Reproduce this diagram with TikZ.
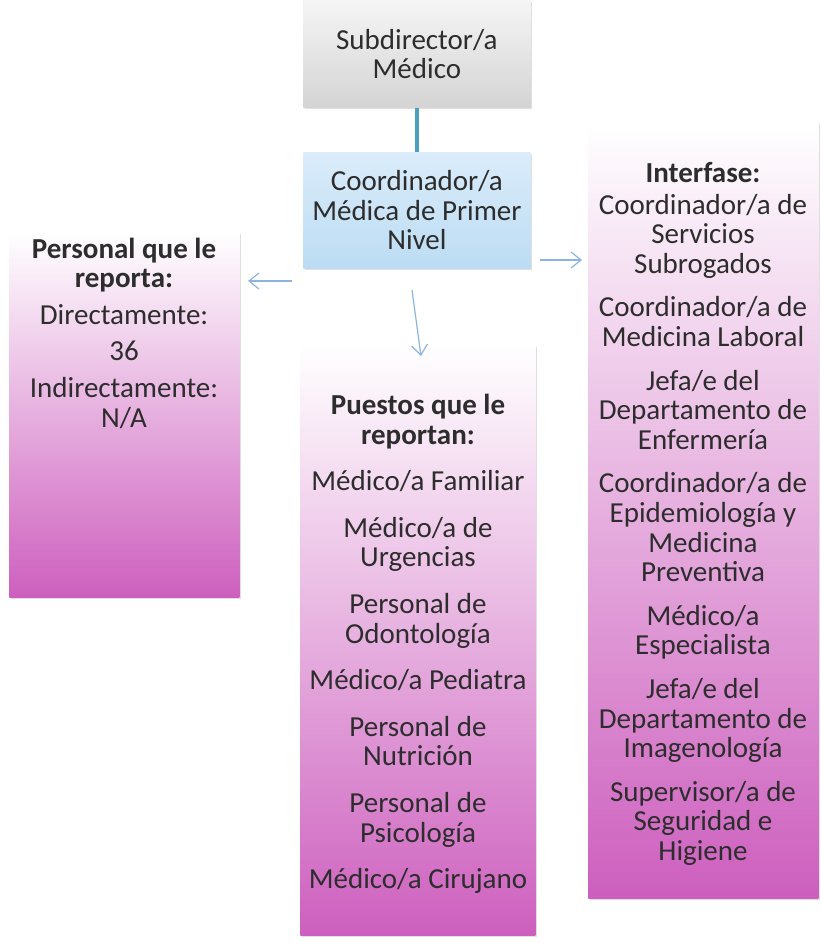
\documentclass[tikz,border=0pt]{standalone}
\usepackage{fontspec}
\setmainfont{Carlito}
\usetikzlibrary{arrows.meta,positioning,shadows}
\definecolor{ink}{RGB}{45,45,45}
\definecolor{pinkbot}{RGB}{205,95,190}
\definecolor{greytop}{RGB}{245,245,245}
\definecolor{greybot}{RGB}{212,212,212}
\definecolor{bluetop}{RGB}{218,236,250}
\definecolor{bluebot}{RGB}{188,220,243}
\definecolor{tealline}{RGB}{75,160,190}
\definecolor{arrowblue}{RGB}{140,180,225}

\begin{document}
\begin{tikzpicture}[x=0.5pt,y=-0.5pt,
    box/.style={anchor=north west,inner sep=0pt,
      drop shadow={shadow xshift=0.6pt,shadow yshift=-1pt,opacity=0.25}},
    pinkbox/.style={box,top color=white,bottom color=pinkbot},
    boxtext/.style={text=ink,align=center,inner sep=0pt,font=\fontsize{14.5}{14.8}\selectfont},
    link/.style={arrowblue,line width=0.6pt,-{Straight Barb[length=5pt,width=8pt]}}]
    \useasboundingbox (0,0) rectangle (820,946);
    % boxes
    \node[box,top color=greytop,bottom color=greybot,minimum width=113.5pt,minimum height=53.5pt,boxtext] (subdir) at (303,0) {Subdirector/a\\Médico};
    \node[box,top color=bluetop,bottom color=bluebot,minimum width=113.5pt,minimum height=58pt,boxtext] (coord) at (303,152) {Coordinador/a\\Médica de Primer\\Nivel};
    \node[pinkbox,minimum width=115pt,minimum height=182.5pt] (leftbox) at (9,232) {};
    \node[pinkbox,minimum width=117.5pt,minimum height=295pt] (midbox) at (300,345) {};
    \node[pinkbox,minimum width=115pt,minimum height=388pt] (rightbox) at (588,122) {};
    % texts
    \node[boxtext] (lefttext) at (124,333) {\textbf{Personal que le}\\\textbf{reporta:}\\[3.5pt]
      Directamente:\\[3.5pt]36\\[3.5pt]Indirectamente:\\N/A};
    \node[boxtext] (midtext) at (418,644) {\textbf{Puestos que le}\\\textbf{reportan:}\\[8.5pt]
      Médico/a Familiar\\[8.5pt]Médico/a de\\Urgencias\\[8.5pt]Personal de\\Odontología\\[8.5pt]
      Médico/a Pediatra\\[8.5pt]Personal de\\Nutrición\\[8.5pt]Personal de\\Psicología\\[8.5pt]
      Médico/a Cirujano};
    \node[boxtext] (righttext) at (703,514) {\textbf{Interfase:}\\[1pt]
      Coordinador/a de\\Servicios\\Subrogados\\[7pt]Coordinador/a de\\Medicina Laboral\\[7pt]
      Jefa/e del\\Departamento de\\Enfermería\\[7pt]Coordinador/a de\\Epidemiología y\\Medicina\\Preventiva\\[7pt]
      Médico/a\\Especialista\\[7pt]Jefa/e del\\Departamento de\\Imagenología\\[7pt]
      Supervisor/a de\\Seguridad e\\Higiene};
    % connectors
    \draw[tealline,line width=2pt] (subdir.south) -- (coord.north);
    \coordinate (lstart) at (292,281);
    \coordinate (lend) at (248,281);
    \coordinate (rstart) at (540,260);
    \coordinate (rend) at (582,260);
    \coordinate (dstart) at (412,290);
    \coordinate (dend) at (421,356);
    \draw[link] (lstart) -- (lend);
    \draw[link] (rstart) -- (rend);
    \draw[link] (dstart) -- (dend);
\end{tikzpicture}
\end{document}
